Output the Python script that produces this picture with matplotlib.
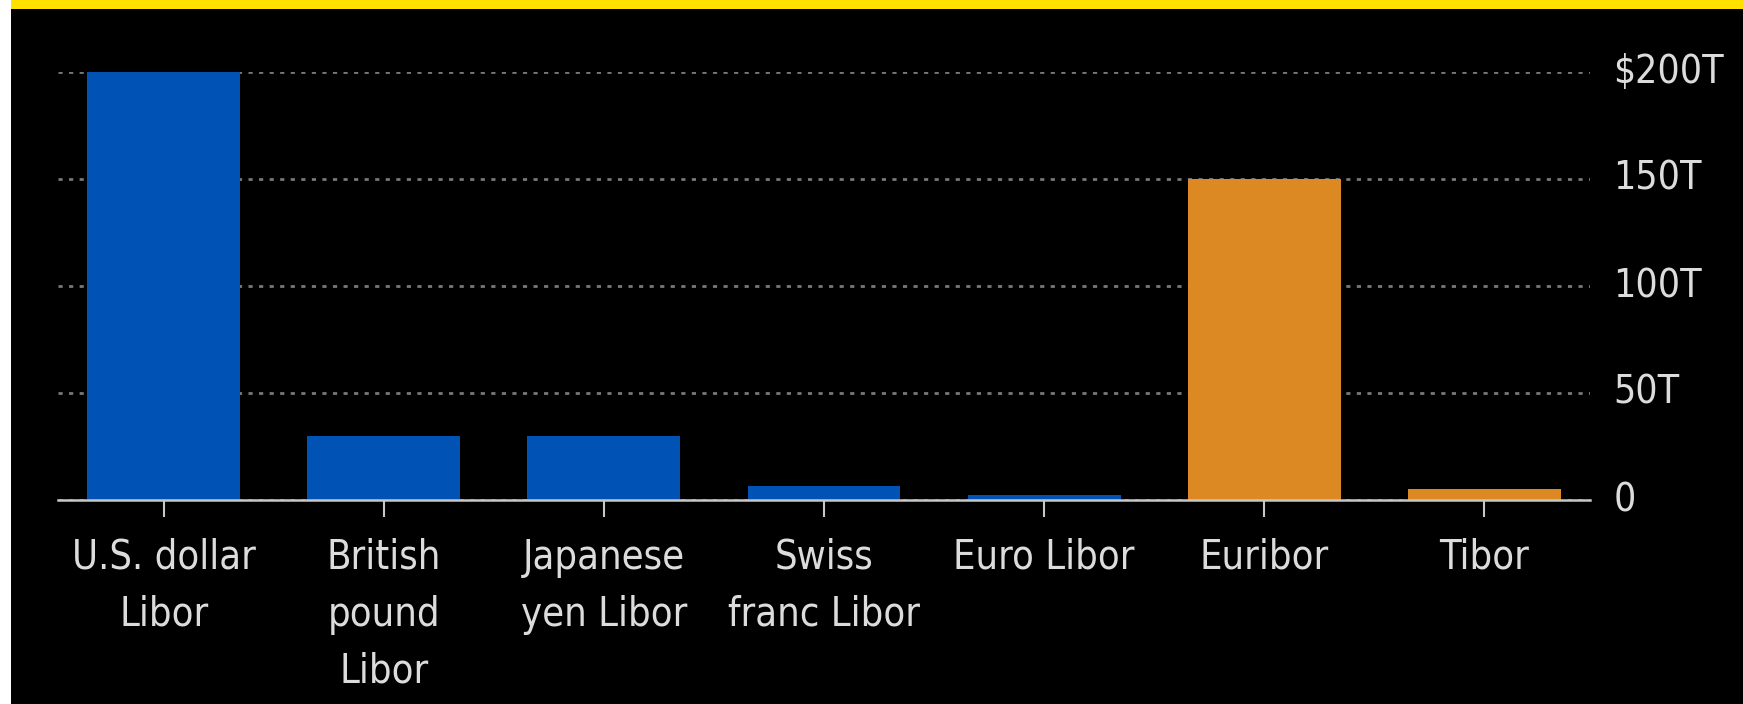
import matplotlib
matplotlib.use("Agg")
import matplotlib.pyplot as plt
from matplotlib.patches import Rectangle

categories = ["U.S. dollar\nLibor", "British\npound\nLibor", "Japanese\nyen Libor",
              "Swiss\nfranc Libor", "Euro Libor", "Euribor", "Tibor"]
values = [200, 30, 30, 6.5, 2.5, 150, 5]
bar_colors = ["#0052B4", "#0052B4", "#0052B4", "#0052B4", "#0052B4", "#DC8923", "#DC8923"]
yticks = [0, 50, 100, 150, 200]
ytick_labels = ["0", "50T", "100T", "150T", "$200T"]

plt.rcParams['font.family'] = ['DejaVu Sans']
plt.rcParams['font.stretch'] = 'condensed'

W, H = 1743, 704
fig = plt.figure(figsize=(W / 100, H / 100), dpi=100)
fig.patch.set_facecolor("white")
fig.patches.append(Rectangle((11 / W, 0), 1 - 11 / W, 1, transform=fig.transFigure,
                             facecolor="black", edgecolor="none", zorder=-10))
fig.patches.append(Rectangle((11 / W, 1 - 9 / H), 1 - 11 / W, 9 / H, transform=fig.transFigure,
                             facecolor="#FFE100", edgecolor="none", zorder=-9))

ax = fig.add_axes([58 / W, 1 - 500 / H, (1590 - 58) / W, (500 - 72) / H])
ax.set_zorder(5)
ax.set_facecolor("none")
x = list(range(len(categories)))
ax.bar(x, values, width=0.695, color=bar_colors, zorder=3)
ax.set_xlim(-0.48, len(categories) - 1 + 0.48)
ax.set_ylim(0, 200)

ax.set_yticks(yticks)
ax.set_yticklabels(ytick_labels)
ax.yaxis.tick_right()
ax.tick_params(axis="y", length=0, pad=17, labelsize=28, labelcolor="#dcdcdc")
for lbl in ax.get_yticklabels():
    lbl.set_horizontalalignment("left")
    lbl.set_verticalalignment("center")

ax.set_xticks(x)
ax.set_xticklabels(categories, linespacing=1.55)
ax.tick_params(axis="x", length=12, width=1.5, color="#c8c8c8", pad=15,
               labelsize=28.5, labelcolor="#dcdcdc")

ax.grid(axis="y", color="#787878", linewidth=2.0, linestyle=(0, (1.5, 2.3)), zorder=1)
ax.grid(axis="x", visible=False)
for s in ["top", "right", "left"]:
    ax.spines[s].set_visible(False)
ax.spines["bottom"].set_color("#c8c8c8")
ax.spines["bottom"].set_linewidth(1.8)
ax.spines["bottom"].set_zorder(4)

fig.savefig("out.png", dpi=100, facecolor=fig.get_facecolor())
